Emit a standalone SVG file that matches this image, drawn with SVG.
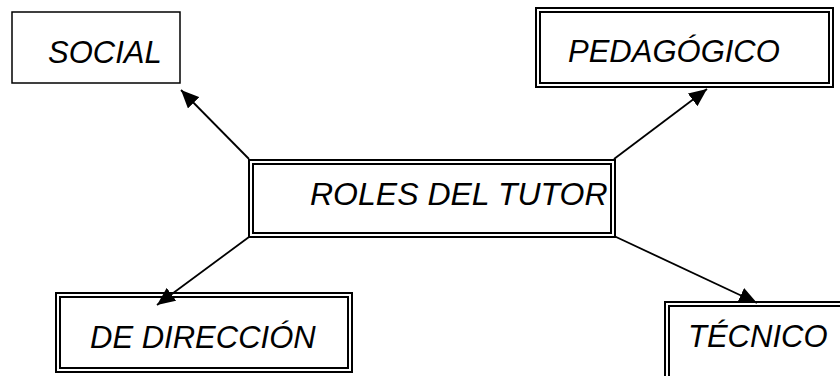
<svg xmlns="http://www.w3.org/2000/svg" width="840" height="376" viewBox="0 0 840 376">
<style>
.t{font-family:"Liberation Sans",Arial,sans-serif;font-style:italic;font-size:31px;fill:#000}
.b{fill:none;stroke:#000;stroke-width:2}
.s{fill:none;stroke:#000;stroke-width:1.5}
.c{stroke:#000;stroke-width:1.8;fill:none}
</style>
<defs>
<marker id="ah" markerUnits="userSpaceOnUse" markerWidth="20" markerHeight="16" refX="18" refY="8" orient="auto">
<path d="M0,0 L18,8 L0,16 z" fill="#000"/>
</marker>
</defs>
<rect width="840" height="376" fill="#fff"/>
<g id="connectors">
<line class="c" x1="249" y1="159" x2="181" y2="90" marker-end="url(#ah)"/>
<line class="c" x1="614" y1="159" x2="707" y2="89" marker-end="url(#ah)"/>
<line class="c" x1="249" y1="237" x2="157" y2="305" marker-end="url(#ah)"/>
<line class="c" x1="614" y1="236" x2="757" y2="303" marker-end="url(#ah)"/>
</g>
<g id="roles">
<rect class="b" x="249" y="160" width="366" height="77"/>
<rect class="b" x="253" y="164" width="358" height="69"/>
<text class="t" x="310" y="205" style="font-size:32px">ROLES DEL TUTOR</text>
</g>
<g id="social">
<rect class="s" x="12" y="12" width="168" height="71"/>
<text class="t" x="48" y="63">SOCIAL</text>
</g>
<g id="pedagogico">
<rect class="b" x="536" y="8" width="297" height="79"/>
<rect class="b" x="540" y="12" width="289" height="71"/>
<text class="t" x="568" y="62">PEDAGÓGICO</text>
</g>
<g id="direccion">
<rect class="b" x="56" y="293" width="296" height="79"/>
<rect class="b" x="60" y="297" width="288" height="71"/>
<text class="t" x="90" y="348">DE DIRECCIÓN</text>
</g>
<g id="tecnico">
<rect class="b" x="665" y="302" width="200" height="100"/>
<rect class="b" x="669" y="306" width="192" height="92"/>
<text class="t" x="688" y="347">TÉCNICO</text>
</g>
</svg>
